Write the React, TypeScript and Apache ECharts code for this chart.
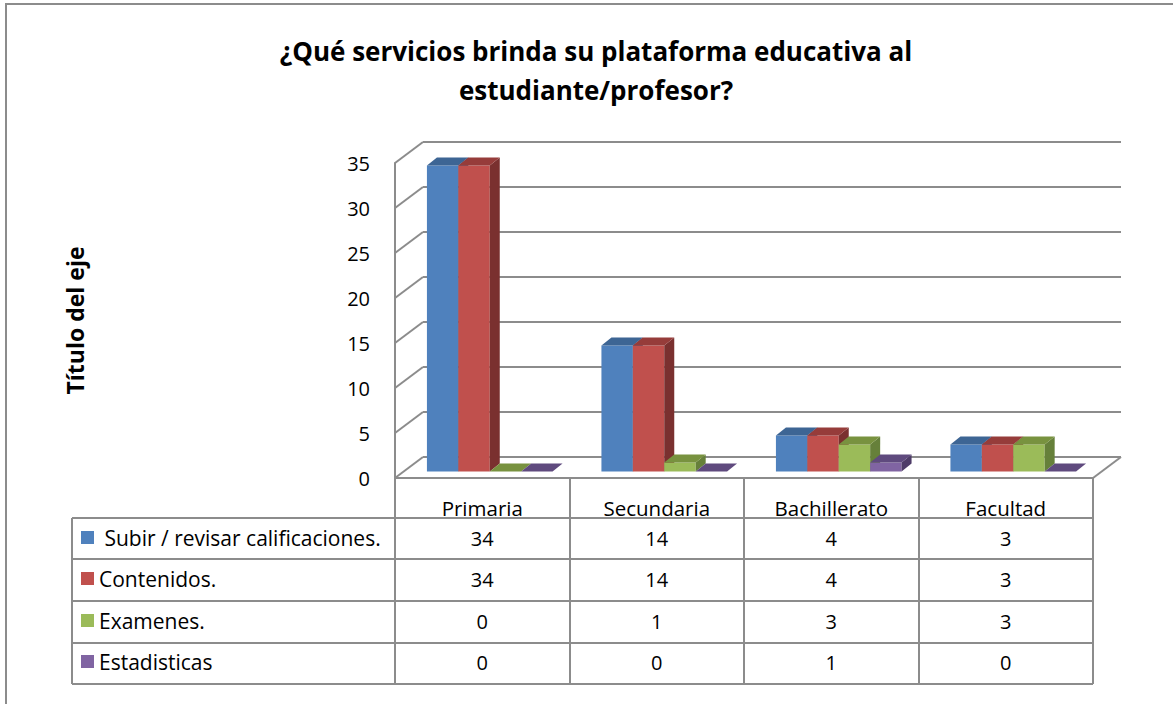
import React, { useEffect, useRef } from "react";
import * as echarts from "echarts";

const categories = ["Primaria", "Secundaria", "Bachillerato", "Facultad"];
const seriesNames = [" Subir / revisar calificaciones.", "Contenidos.", "Examenes.", "Estadisticas"];
const subir = [34, 14, 4, 3];
const contenidos = [34, 14, 4, 3];
const examenes = [0, 1, 3, 3];
const estadisticas = [0, 0, 1, 0];
const yTicks = [0, 5, 10, 15, 20, 25, 30, 35];
const titleText = "¿Qué servicios brinda su plataforma educativa al\nestudiante/profesor?";
const axisTitle = "Título del eje";

const allValues = [subir, contenidos, examenes, estadisticas];
const frontColors = ["#4F81BD", "#C0504D", "#9BBB59", "#8064A2"];
const topColors = ["#3D6594", "#963C3A", "#78923F", "#5F4A7E"];
const sideColors = ["#375B87", "#7A302F", "#66803A", "#4E3C68"];

const FONT = "'Open Sans', 'Noto Sans', sans-serif";
const GRAY = "#8c8c8c";
const WALL_DX = 28;
const WALL_DY = -21;
const SHIFT_X = 7.5;
const SHIFT_Y = -6.5;
const BAR_DX = 10;
const BAR_DY = -8;
const ROW_LINES = [518, 559, 601, 643, 684];
const ROW_CENTERS = [538, 579, 621, 662];
const TABLE_LEFT = 72;
const TABLE_RIGHT = 1093;

export default function App() {
  const ref = useRef<HTMLDivElement>(null);
  useEffect(() => {
    if (!ref.current) return;
    const chart = echarts.init(ref.current, undefined, { renderer: "svg" });

    const barSeries = allValues.map((vals, s) => ({
      type: "custom",
      name: seriesNames[s],
      xAxisIndex: 0,
      yAxisIndex: 0,
      data: vals.map((v, i) => [i, v]),
      encode: { x: 0, y: 1 },
      z: 5 + s,
      renderItem: (params: any, api: any) => {
        const i = api.value(0);
        const v = api.value(1);
        const base = api.coord([i, 0]);
        const top = api.coord([i, v]);
        const band = api.size([1, 0])[0];
        const bw = band * 0.18;
        const x0 = base[0] - 2 * bw + s * bw + SHIFT_X;
        const x1 = x0 + bw;
        const yb = base[1] + SHIFT_Y;
        const yt = top[1] + SHIFT_Y;
        const children: any[] = [];
        if (v > 0) {
          children.push({
            type: "rect",
            shape: { x: x0, y: yt, width: bw, height: yb - yt },
            style: { fill: frontColors[s] },
          });
          children.push({
            type: "polygon",
            shape: { points: [[x1, yb], [x1 + BAR_DX, yb + BAR_DY], [x1 + BAR_DX, yt + BAR_DY], [x1, yt]] },
            style: { fill: sideColors[s] },
          });
        }
        children.push({
          type: "polygon",
          shape: { points: [[x0, yt], [x1, yt], [x1 + BAR_DX, yt + BAR_DY], [x0 + BAR_DX, yt + BAR_DY]] },
          style: { fill: topColors[s] },
        });
        return { type: "group", children };
      },
    }));

    const wallSeries = {
      type: "custom",
      xAxisIndex: 0,
      yAxisIndex: 0,
      data: yTicks.map((t) => [0, t]),
      encode: { x: 0, y: 1 },
      z: 2,
      silent: true,
      renderItem: (params: any, api: any) => {
        const t = api.value(1);
        const p = api.coord([0, t]);
        const band = api.size([1, 0])[0];
        const xl = p[0] - band / 2;
        const children: any[] = [
          {
            type: "line",
            shape: { x1: xl, y1: p[1], x2: xl + WALL_DX, y2: p[1] + WALL_DY },
            style: { stroke: GRAY, lineWidth: 2 },
          },
        ];
        if (t === 0) {
          const pr = api.coord([categories.length - 1, 0]);
          const xr = pr[0] + band / 2;
          children.push({
            type: "line",
            shape: { x1: xr, y1: pr[1], x2: xr + WALL_DX, y2: pr[1] + WALL_DY },
            style: { stroke: GRAY, lineWidth: 2 },
          });
        }
        return { type: "group", children };
      },
    };

    const tableData: number[][] = [];
    allValues.forEach((vals, r) => vals.forEach((v, i) => tableData.push([i, r, v])));
    const tableSeries = {
      type: "custom",
      xAxisIndex: 0,
      yAxisIndex: 0,
      data: tableData,
      encode: { x: 0 },
      z: 10,
      silent: true,
      renderItem: (params: any, api: any) => {
        const i = api.value(0);
        const r = api.value(1);
        const v = api.value(2);
        const p = api.coord([i, 0]);
        return {
          type: "text",
          style: {
            text: String(v),
            x: p[0],
            y: ROW_CENTERS[r],
            align: "center",
            verticalAlign: "middle",
            fontSize: 20,
            fontFamily: FONT,
            fill: "#000",
          },
        };
      },
    };

    const graphics: any[] = [
      {
        type: "rect",
        shape: { x: 6, y: 4, width: 1300, height: 800 },
        style: { fill: "none", stroke: GRAY, lineWidth: 2 },
        z: 0,
      },
      {
        type: "line",
        shape: { x1: TABLE_LEFT, y1: ROW_LINES[0], x2: TABLE_LEFT, y2: ROW_LINES[ROW_LINES.length - 1] },
        style: { stroke: GRAY, lineWidth: 2 },
      },
    ];
    ROW_LINES.forEach((y) => {
      graphics.push({
        type: "line",
        shape: { x1: TABLE_LEFT, y1: y, x2: TABLE_RIGHT, y2: y },
        style: { stroke: GRAY, lineWidth: 2 },
      });
    });
    seriesNames.forEach((name, r) => {
      graphics.push({
        type: "rect",
        shape: { x: 81, y: ROW_CENTERS[r] - 7, width: 13, height: 13 },
        style: { fill: frontColors[r] },
      });
      graphics.push({
        type: "text",
        style: {
          text: name,
          x: 99,
          y: ROW_CENTERS[r],
          verticalAlign: "middle",
          fontSize: 21,
          fontFamily: FONT,
          fill: "#000",
        },
      });
    });

    chart.setOption({
      animation: false,
      backgroundColor: "#fff",
      title: {
        text: titleText,
        left: 591,
        top: 26,
        textAlign: "center",
        textStyle: { fontSize: 26, fontWeight: "bold", fontFamily: FONT, color: "#000", lineHeight: 39 },
      },
      grid: [
        { left: 395, top: 163, width: 698, height: 315 },
        { left: 395 + WALL_DX, top: 163 + WALL_DY, width: 698, height: 315 },
      ],
      xAxis: [
        {
          type: "category",
          gridIndex: 0,
          data: categories,
          axisLine: { show: true, lineStyle: { color: GRAY, width: 2 } },
          axisTick: { show: true, length: 206, lineStyle: { color: GRAY, width: 2 } },
          axisLabel: { color: "#000", fontSize: 20.5, fontFamily: FONT, margin: 19 },
          splitLine: { show: false },
        },
        { type: "category", gridIndex: 1, data: categories, show: false },
      ],
      yAxis: [
        {
          type: "value",
          gridIndex: 0,
          min: 0,
          max: 35,
          interval: 5,
          name: axisTitle,
          nameLocation: "middle",
          nameRotate: 90,
          nameGap: 309,
          nameTextStyle: { fontSize: 23, fontWeight: "bold", fontFamily: FONT, color: "#000" },
          axisLine: { show: true, lineStyle: { color: GRAY, width: 2 } },
          axisTick: { show: false },
          axisLabel: { color: "#000", fontSize: 20, fontFamily: FONT, margin: 25 },
          splitLine: { show: false },
        },
        {
          type: "value",
          gridIndex: 1,
          min: 0,
          max: 35,
          interval: 5,
          axisLine: { show: false },
          axisTick: { show: false },
          axisLabel: { show: false },
          splitLine: { show: true, lineStyle: { color: GRAY, width: 2 } },
        },
      ],
      graphic: graphics,
      series: [wallSeries, ...barSeries, tableSeries],
    });
    return () => chart.dispose();
  }, []);
  return (
    <div
      ref={ref}
      style={{ position: "absolute", left: 0, top: 0, width: 1173, height: 704 }}
    />
  );
}
